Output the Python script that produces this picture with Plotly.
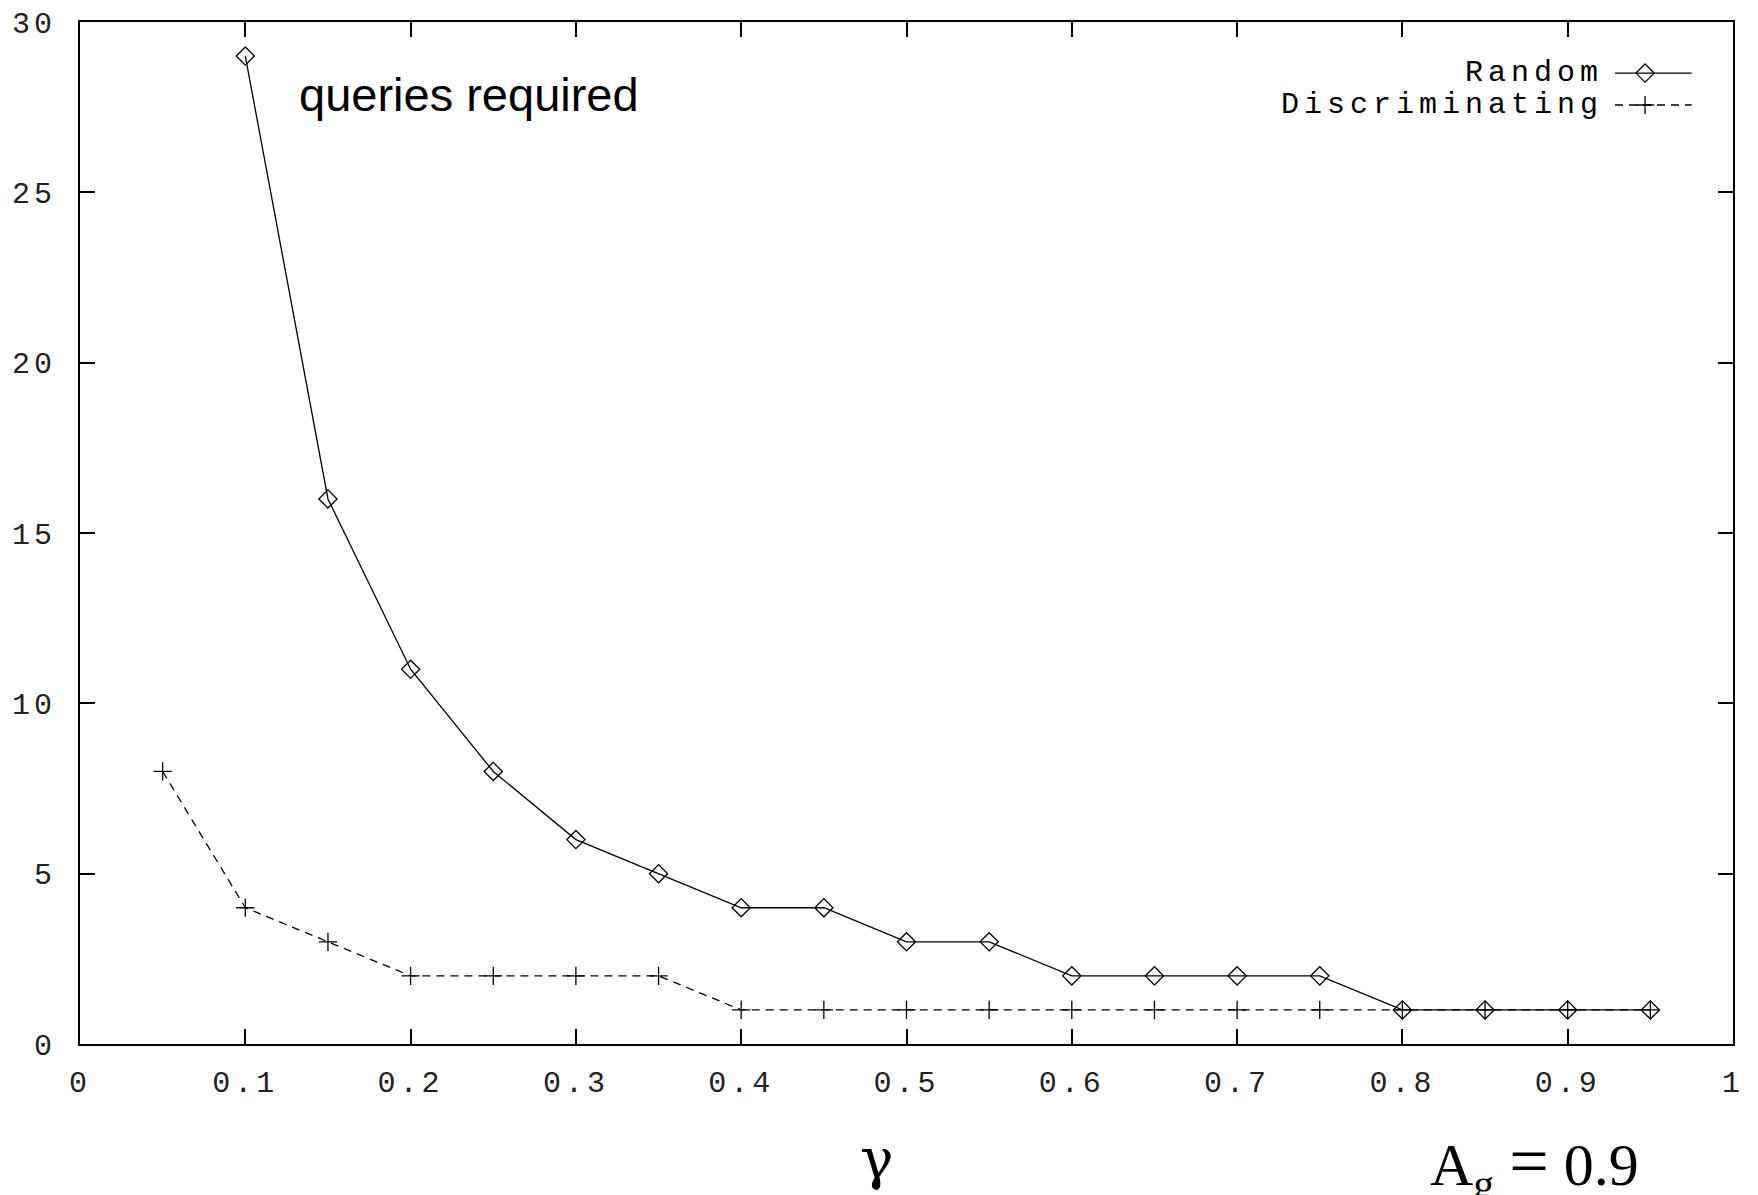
import plotly.graph_objects as go

# ---- data ----
random_x = [0.10, 0.15, 0.20, 0.25, 0.30, 0.35, 0.40, 0.45, 0.50, 0.55,
            0.60, 0.65, 0.70, 0.75, 0.80, 0.85, 0.90, 0.95]
random_y = [29, 16, 11, 8, 6, 5, 4, 4, 3, 3, 2, 2, 2, 2, 1, 1, 1, 1]

disc_x = [0.05, 0.10, 0.15, 0.20, 0.25, 0.30, 0.35, 0.40, 0.45, 0.50,
          0.55, 0.60, 0.65, 0.70, 0.75, 0.80, 0.85, 0.90, 0.95]
disc_y = [8, 4, 3, 2, 2, 2, 2, 1, 1, 1, 1, 1, 1, 1, 1, 1, 1, 1, 1]

x_ticks = [0, 0.1, 0.2, 0.3, 0.4, 0.5, 0.6, 0.7, 0.8, 0.9, 1]
x_tick_labels = ["0", "0.1", "0.2", "0.3", "0.4", "0.5", "0.6", "0.7", "0.8", "0.9", "1"]
y_ticks = [0, 5, 10, 15, 20, 25, 30]
y_tick_labels = ["0", "5", "10", "15", "20", "25", "30"]

series_names = ["Random", "Discriminating"]

MONO = "Liberation Mono"
SPACED = '<span style="letter-spacing:4px">{}</span>'

fig = go.Figure()

fig.add_trace(go.Scatter(
    x=random_x, y=random_y, mode="lines+markers", name=series_names[0],
    line=dict(color="black", width=1.3),
    marker=dict(symbol="diamond-open", size=14, color="black", line=dict(width=1.3)),
    showlegend=False))
fig.add_trace(go.Scatter(
    x=disc_x, y=disc_y, mode="lines+markers", name=series_names[1],
    line=dict(color="black", width=1.3, dash="8px,6px"),
    marker=dict(symbol="cross-thin-open", size=13, color="black", line=dict(width=1.3)),
    showlegend=False))

# legend samples drawn on an overlay axis (gnuplot style: text then sample)
leg_y = [0.950, 0.9188]
fig.add_trace(go.Scatter(x=[0.9286, 0.975], y=[leg_y[0]] * 2, xaxis="x2", yaxis="y2",
                         mode="lines", line=dict(color="black", width=1.3),
                         showlegend=False, hoverinfo="skip"))
fig.add_trace(go.Scatter(x=[0.9468], y=[leg_y[0]], xaxis="x2", yaxis="y2",
                         mode="markers",
                         marker=dict(symbol="diamond-open", size=14, color="black",
                                     line=dict(width=1.3)),
                         showlegend=False, hoverinfo="skip"))
fig.add_trace(go.Scatter(x=[0.9286, 0.975], y=[leg_y[1]] * 2, xaxis="x2", yaxis="y2",
                         mode="lines", line=dict(color="black", width=1.3, dash="8px,6px"),
                         showlegend=False, hoverinfo="skip"))
fig.add_trace(go.Scatter(x=[0.9468], y=[leg_y[1]], xaxis="x2", yaxis="y2",
                         mode="markers",
                         marker=dict(symbol="cross-thin-open", size=13, color="black",
                                     line=dict(width=1.3)),
                         showlegend=False, hoverinfo="skip"))

for name, yy in zip(series_names, leg_y):
    fig.add_annotation(xref="paper", yref="paper", x=0.9225, y=yy,
                       xanchor="right", yanchor="middle", showarrow=False,
                       text='<span style="letter-spacing:5px">%s</span>' % name,
                       font=dict(family=MONO, size=30, color="black"))

fig.add_annotation(xref="paper", yref="paper", x=0.131, y=0.9295,
                   xanchor="left", yanchor="middle", showarrow=False,
                   text="queries required",
                   font=dict(family="Liberation Sans", size=47, color="black"))
fig.add_annotation(xref="paper", yref="paper", x=0.482, y=-0.112,
                   xanchor="center", yanchor="middle", showarrow=False,
                   text="γ",
                   font=dict(family="DejaVu Serif", size=56, color="black"))
fig.add_annotation(xref="paper", yref="paper", x=0.880, y=-0.118,
                   xanchor="center", yanchor="middle", showarrow=False,
                   text='A<sub>g</sub> <span style="font-size:70px">=</span> 0.9',
                   font=dict(family="Liberation Serif", size=60, color="black"))

axis_common = dict(
    showgrid=False, zeroline=False, showline=True, linecolor="black", linewidth=2,
    mirror="allticks", ticks="inside", ticklen=15, tickwidth=2, tickcolor="black",
    tickfont=dict(family=MONO, size=30, color="#222"),
    automargin=False, ticklabeloverflow="allow",
)

# the page body adds an 8px offset, so the figure is 8px smaller on each side
fig.update_layout(
    width=1750, height=1187,
    margin=dict(l=72, r=25, t=14, b=151),
    paper_bgcolor="white", plot_bgcolor="white",
    xaxis=dict(range=[0, 1], tickvals=x_ticks,
               ticktext=[SPACED.format(t) for t in x_tick_labels],
               ticklabelstandoff=10, **axis_common),
    yaxis=dict(range=[0, 30], tickvals=y_ticks,
               ticktext=[SPACED.format(t) for t in y_tick_labels],
               ticklabelstandoff=16, **axis_common),
    xaxis2=dict(range=[0, 1], overlaying="x", visible=False, fixedrange=True),
    yaxis2=dict(range=[0, 1], overlaying="y", visible=False, fixedrange=True),
)

fig.write_html("out.html")
